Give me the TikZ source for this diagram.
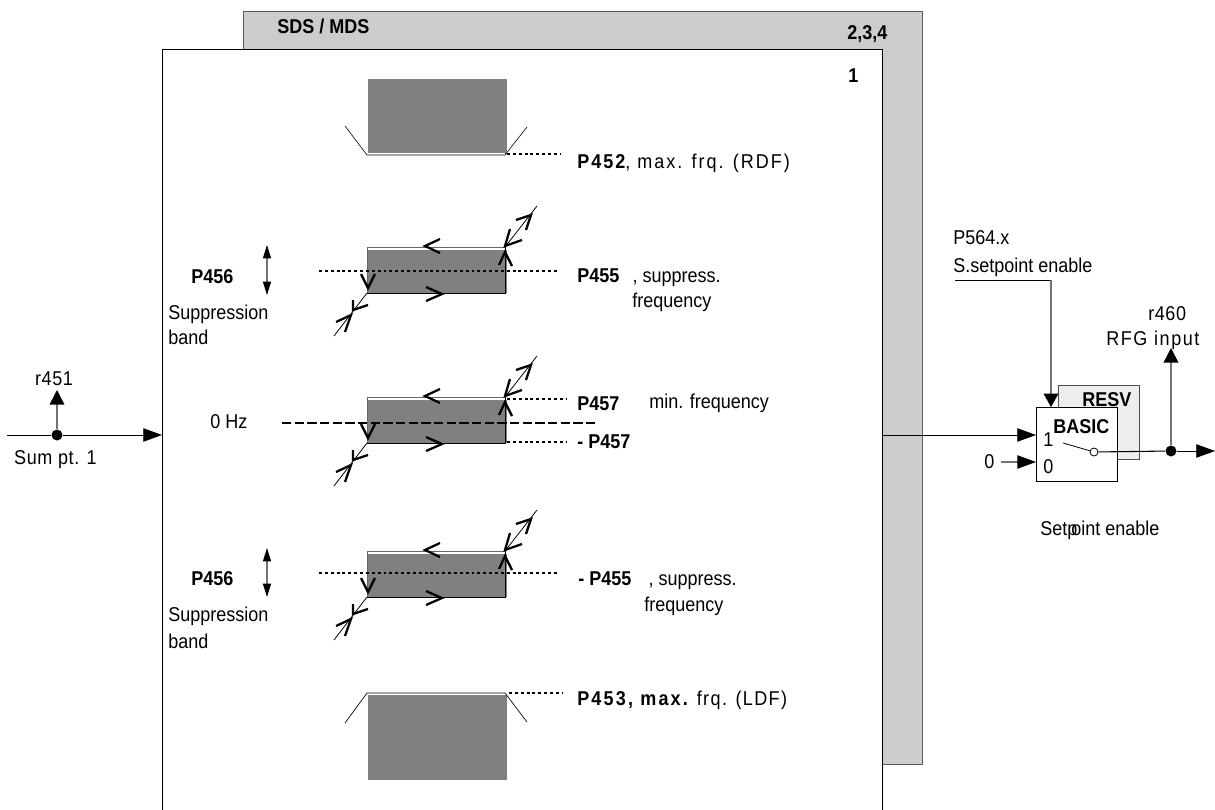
\documentclass[tikz,border=0pt]{standalone}
\usepackage{fontspec}
\setmainfont[FakeStretch=0.9]{Liberation Sans}
\usetikzlibrary{arrows.meta,calc}
\definecolor{backgray}{RGB}{204,204,204}
\definecolor{bandgray}{RGB}{128,128,128}
\definecolor{resvgray}{RGB}{238,238,238}
\newcommand{\spaced}[2]{{\addfontfeatures{LetterSpace=#1}#2}}
\tikzset{
  x=0.75pt,y=-0.75pt,
  lbl/.style={inner sep=0pt,anchor=base west,font=\fontsize{15}{17}\selectfont},
  lblc/.style={inner sep=0pt,anchor=base,font=\fontsize{15}{17}\selectfont},
  blbl/.style={lbl,font=\fontsize{15}{17}\selectfont\bfseries},
  thinln/.style={draw=black,line width=0.6pt},
  grayln/.style={draw=black!55,line width=0.9pt},
  sig/.style={thinln,-{Triangle[length=14pt,width=10pt,color=black]}},
  sigup/.style={grayln,line width=1.2pt,-{Triangle[length=11pt,width=11pt,color=black]}},
  dotln/.style={draw=black,line width=1.2pt,dash pattern=on 2.2pt off 2.2pt},
  dashln/.style={draw=black,line width=1.5pt,dash pattern=on 7pt off 2.5pt},
  vee/.style={draw=black,line width=1.7pt,line join=miter},
  dirarrow/.style={grayln,{Triangle[length=10pt,width=6pt,color=black]}-{Triangle[length=10pt,width=6pt,color=black]}},
  dotnode/.style={circle,fill=black,inner sep=0pt,minimum size=8.25pt}
}
\newcommand{\hyst}[1]{%
  \begin{scope}[yshift=#1*-0.75pt]
    \fill[bandgray] (367,3) rectangle (507,46);
    \draw[draw=black!60,line width=0.6pt] (367,46) -- (367,0) -- (505,0);
    \draw[thinln] (367,46) -- (505,46) -- (505,0);
    \draw[thinln] (505,0) -- (537,-41);
    \draw[thinln] (367,46) -- (334,89);
    \draw[vee] (510,-18) -- (505,-1) -- (522,-7);
    \draw[vee] (516,-27) -- (531,-32) -- (526,-17);
    \draw[vee] (353,53) -- (353,63) -- (368,58);
    \draw[vee] (336,75) -- (351,68) -- (345,85);
    \draw[vee] (440,-8) -- (425,-1) -- (440,6);
    \draw[vee] (426,40) -- (442,47) -- (426,54);
    \draw[vee] (499,18) -- (505,5) -- (512,19);
    \draw[vee] (361,27) -- (368,41) -- (375,27);
  \end{scope}}
\begin{document}
\begin{tikzpicture}
\useasboundingbox (0,0) rectangle (1215,810);
\fill[white] (0,0) rectangle (1215,810);
% panels
\node[draw=black!65,line width=0.9pt,fill=backgray,inner sep=0pt,minimum width=509.25pt,minimum height=564.75pt,anchor=north west] (back) at (243,11) {};
\fill[white] (162,49) rectangle (882,810);
\draw[thinln] (162,810) -- (162,49) -- (882,49) -- (882,810);
\coordinate (panelIn) at (162,435);
\coordinate (panelOut) at (882,435);
\node[blbl] (sds) at (277,33) {SDS / MDS};
\node[blbl] (two) at (847,39) {2,3,4};
\node[blbl] (one) at (848,82) {1};
% top block
\fill[bandgray] (368,79) rectangle (507,153.5);
\draw[white,line width=0.8pt] (367,154) -- (505,154);
\draw[thinln,line width=0.45pt] (345,126) -- (367,155) -- (505,155) -- (527,127);
\draw[dotln] (507,154) -- (560,154);
\node[lbl] (p452) at (577,168) {\spaced{10}{\textbf{P452}, max. frq. (RDF)}};
% band 2
\hyst{247}
\draw[dotln] (319,271) -- (559,271);
\node[blbl] (p456a) at (191,283) {P456};
\draw[dirarrow] (267,245) -- (267,295);
\node[lbl] (supa) at (168,319) {Suppression};
\node[lbl] (banda) at (168,344) {band};
\node[lbl] (p455) at (577,282) {\textbf{P455}\hspace{10pt}, suppress.};
\node[lbl] (fra) at (632,307) {frequency};
% band 3
\hyst{397}
\draw[dashln] (282,423) -- (598,423);
\draw[dotln] (507,399) -- (567,399);
\draw[dotln] (507,442) -- (567,442);
\node[lbl] (zero) at (210,428) {0 Hz};
\node[blbl] (p457) at (577,410) {P457};
\node[blbl] (mp457) at (577,448) {- P457};
\node[lbl] (minf) at (649,408) {min. frequency};
% band 4
\hyst{551}
\draw[dotln] (319,573) -- (559,573);
\node[blbl] (p456b) at (191,585) {P456};
\draw[dirarrow] (267,548) -- (267,597);
\node[lbl] (supb) at (168,621) {Suppression};
\node[lbl] (bandb) at (168,648) {band};
\node[lbl] (mp455) at (578,585) {\textbf{- P455}\hspace{13pt}, suppress.};
\node[lbl] (frb) at (644,611) {frequency};
% bottom block
\fill[bandgray] (368,695) rectangle (507,780);
\draw[thinln,line width=0.5pt] (345,723) -- (367,693) -- (505,693) -- (527,722);
\draw[dotln] (509,693) -- (563,693);
\node[lbl] (p453) at (577,705) {\textbf{\spaced{11}{P453, max.}} \spaced{7}{frq. (LDF)}};
% left
\coordinate (inL) at (7,435);
\node[dotnode] (sum) at (57,435) {};
\coordinate (r451tip) at (57,390);
\draw[thinln] (inL) -- (sum);
\draw[sig] (sum) -- (panelIn);
\draw[sigup] (sum) -- (r451tip);
\node[lblc] (r451) at (54,385) {\spaced{3}{r451}};
\node[lblc] (sumpt) at (55.5,464) {\spaced{3}{Sum pt. 1}};
% right
\node[draw=black!70,line width=0.6pt,fill=resvgray,inner sep=0pt,minimum width=60.75pt,minimum height=55.5pt,anchor=north west] (resv) at (1058,385) {};
\node[draw=black,line width=0.7pt,fill=white,inner sep=0pt,minimum width=60.75pt,minimum height=55.5pt,anchor=north west] (basic) at (1036,407) {};
\node[blbl] (resvt) at (1082,406) {RESV};
\node[blbl] (basict) at (1053,433) {BASIC};
\node[lbl] (ione) at (1043,446) {1};
\node[lbl] (izero) at (1043,473) {0};
\node[lbl] (zeroin) at (984,468) {0};
\coordinate (in1) at (1036,435);
\coordinate (in0) at (1036,462);
\coordinate (zeroout) at (1001,462);
\draw[sig] (panelOut) -- (in1);
\draw[sig,grayln] (zeroout) -- (in0);
\node[lbl] (p564) at (953,244) {P564.x};
\node[lbl] (senable) at (953,272) {S.setpoint enable};
\coordinate (enL) at (955,280);
\coordinate (enCorner) at (1051,280);
\coordinate (enTip) at (1051,407);
\draw[thinln] (enL) -- (enCorner);
\draw[grayln,-{Triangle[length=10pt,width=11pt,color=black]}] (enCorner) -- (enTip);
\coordinate (swA) at (1063,443);
\node[circle,draw=black,fill=white,line width=0.6pt,inner sep=0pt,minimum size=6pt] (sw) at (1094,452) {};
\draw[thinln] (swA) -- (sw);
\node[dotnode] (out) at (1171,451) {};
\coordinate (outEnd) at (1215,451);
\coordinate (r460tip) at (1171,348);
\draw[draw=black,line width=0.8pt] (sw) -- (out);
\draw[sig] (out) -- (outEnd);
\draw[sigup] (out) -- (r460tip);
\node[lbl] (r460) at (1148,320) {\spaced{3}{r460}};
\node[lbl] (rfg) at (1106,345) {\spaced{8}{RFG input}};
\node[lbl] (setp) at (1040,535) {Setp\kern-4.5pt oint enable};
\end{tikzpicture}
\end{document}
